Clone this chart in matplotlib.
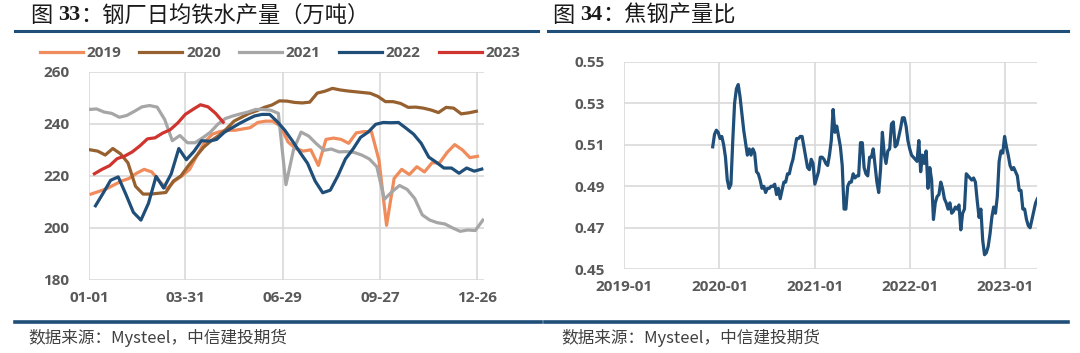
import pandas as pd
import matplotlib
matplotlib.use('Agg')
import matplotlib.pyplot as plt
import matplotlib.dates as mdates
from matplotlib.lines import Line2D

plt.rcParams['font.family'] = ['Open Sans', 'Noto Sans CJK SC', 'DejaVu Sans']

# ---- data: 钢厂日均铁水产量 (weekly, 万吨) ----
years = ['2019', '2020', '2021', '2022', '2023']
first_week = ['2019-01-03', '2020-01-02', '2021-01-01', '2022-01-07', '2023-01-06']

iron_2019 = [213, 214, 215, 216.5, 218, 219, 221, 222.5, 221.5, 218, 215, 218, 220,
             222.5, 228, 233, 236, 237, 237.5, 237.5, 238, 238.5, 240.5, 241, 241, 239,
             233, 230.5, 229.5, 230, 224, 234, 234.5, 234, 232.5, 236.5, 237, 237, 226,
             201, 219, 222.5, 220.5, 223.5, 221.5, 225, 225, 229, 232, 230, 227, 227.5]
iron_2020 = [230, 229.5, 228, 230.5, 228.5, 225, 216, 213, 213, 213.3, 213.6, 218, 220,
             224, 227.5, 231, 233.5, 235.5, 238, 241, 242.5, 244, 245, 246.3, 247.2, 248.8,
             248.7, 248.2, 248, 248.3, 251.8, 252.5, 253.6, 253, 252.6, 252.3, 252, 251.7,
             250.5, 248.5, 248.5, 247.8, 246.3, 246.4, 246, 245.3, 244.3, 246.3, 246, 243.8,
             244.2, 244.8]
iron_2021 = [245.5, 245.7, 244.5, 244, 242.5, 243.2, 244.8, 246.5, 247, 246.4, 241.6, 233.5,
             235.5, 232.7, 232.7, 234.6, 236.7, 239.8, 242, 243, 243.8, 244.5, 245.5, 245.5,
             245.2, 244, 216.6, 230, 236.8, 235.3, 232.4, 229.8, 230.3, 229.2, 229.3, 229,
             228, 226.5, 223.5, 211, 213.9, 216.3, 214.8, 211.3, 205, 203, 202, 201.5, 200,
             198.7, 199.2, 199, 203]
iron_2022 = [208.5, 213.3, 218.3, 219.6, 213, 206, 203, 209.5, 219.8, 215.3, 220.8, 230.5,
             226.2, 229.4, 233.5, 233.3, 234, 236.7, 238.4, 240.1, 241.6, 243, 243.6, 243.6,
             240.8, 237.5, 233.4, 229, 224.8, 218, 213.5, 214.5, 220, 226.5, 230.3, 234.8,
             236.8, 239.8, 240.5, 240.4, 240.5, 238.3, 236, 232.5, 227.2, 225.2, 223, 223,
             221, 223, 221.8, 222.6]
iron_2023 = [220.8, 222.5, 223.9, 226.6, 227.6, 229.2, 231.5, 234.2, 234.6, 236.4, 237.7,
             240.3, 243.6, 245.5, 247.3, 246.5, 244, 240.6]
iron_series = [iron_2019, iron_2020, iron_2021, iron_2022, iron_2023]
iron_colors = ['#F08B5B', '#96602F', '#A6A6A6', '#1F4E79', '#D0342F']
md_ticks = ['01-01', '03-31', '06-29', '09-27', '12-26']

# ---- data: 焦钢产量比 (weekly) ----
ratio_start = '2019-12-06'
ratio = [0.509, 0.515, 0.517, 0.516, 0.513, 0.514, 0.510, 0.504, 0.493, 0.489, 0.491,
         0.512, 0.530, 0.537, 0.539, 0.533, 0.525, 0.517, 0.511, 0.505, 0.508, 0.505,
         0.508, 0.506, 0.497, 0.496, 0.493, 0.489, 0.490, 0.487, 0.489, 0.489, 0.490,
         0.490, 0.491, 0.486, 0.489, 0.484, 0.488, 0.492, 0.492, 0.496, 0.496, 0.500,
         0.503, 0.508, 0.513, 0.513, 0.514, 0.514, 0.509, 0.504, 0.499, 0.498, 0.503,
         0.501, 0.491, 0.494, 0.497, 0.504, 0.504, 0.503, 0.501, 0.500, 0.505, 0.512,
         0.527, 0.516, 0.519, 0.514, 0.509, 0.500, 0.479, 0.479, 0.490, 0.492, 0.492,
         0.496, 0.494, 0.495, 0.495, 0.511, 0.511, 0.499, 0.496, 0.495, 0.504, 0.504,
         0.508, 0.500, 0.492, 0.487, 0.498, 0.516, 0.506, 0.501, 0.507, 0.508, 0.520,
         0.521, 0.509, 0.510, 0.514, 0.518, 0.523, 0.523, 0.519, 0.512, 0.508, 0.505,
         0.504, 0.503, 0.502, 0.512, 0.497, 0.505, 0.501, 0.507, 0.489, 0.499, 0.493,
         0.474, 0.482, 0.485, 0.486, 0.492, 0.489, 0.484, 0.482, 0.479, 0.482, 0.477,
         0.478, 0.480, 0.479, 0.481, 0.469, 0.477, 0.479, 0.496, 0.495, 0.494, 0.493,
         0.494, 0.492, 0.483, 0.475, 0.479, 0.464, 0.457, 0.458, 0.461, 0.467, 0.475,
         0.480, 0.477, 0.485, 0.502, 0.507, 0.506, 0.514, 0.509, 0.505, 0.500, 0.498,
         0.499, 0.497, 0.495, 0.488, 0.488, 0.479, 0.479, 0.474, 0.471, 0.470, 0.474,
         0.478, 0.482, 0.484]

TICK_COLOR = '#595959'
GRID_COLOR = '#D9D9D9'
NAVY = '#1F4E79'
CJK = ['Noto Sans CJK SC', 'DejaVu Sans']


def style_axes(ax):
    for s in ax.spines.values():
        s.set_visible(False)
    ax.grid(True, color=GRID_COLOR, lw=1.2)
    ax.set_axisbelow(True)
    ax.tick_params(length=0, colors=TICK_COLOR, labelsize=11)
    ax.tick_params(axis='y', pad=14)
    ax.tick_params(axis='x', pad=8)
    for lab in ax.get_xticklabels() + ax.get_yticklabels():
        lab.set_fontweight('bold')


def title_text(fig, x_px, y_px, parts, size=16):
    # draw the pieces one after another: "图 ", bold number, rest of title
    renderer = fig.canvas.get_renderer()
    x = x_px / 1080
    for txt, kw in parts:
        t = fig.text(x, 1 - y_px / 353, txt, fontsize=size, va='center',
                     color='#1a1a1a', **kw)
        bb = t.get_window_extent(renderer)
        x = bb.x1 / fig.bbox.width


fig = plt.figure(figsize=(10.8, 3.53), dpi=100)

# left: daily hot metal output
ax1 = fig.add_axes([0.0824, 0.2068, 0.3657, 0.5901])
for name, start, vals, col in zip(years, first_week, iron_series, iron_colors):
    d = pd.date_range(start, periods=len(vals), freq='7D')
    x = (d - pd.Timestamp(f'{name}-01-01')).days
    ax1.plot(x, vals, color=col, lw=2.3, label=name, solid_joinstyle='round')
tick_days = (pd.to_datetime(['2019-' + t for t in md_ticks]) - pd.Timestamp('2019-01-01')).days
ax1.set_xticks(tick_days)
ax1.set_xticklabels(md_ticks)
ax1.set_xlim(0, 365)
ax1.set_ylim(180, 260)
ax1.set_yticks(range(180, 261, 20))
style_axes(ax1)

leg = fig.legend(*ax1.get_legend_handles_labels(), loc='center', ncol=5,
                 bbox_to_anchor=(280 / 1080, 1 - 53 / 353), frameon=False,
                 handlelength=2.8, handletextpad=0.25, columnspacing=1.2,
                 prop={'size': 11, 'weight': 'bold'})
for t in leg.get_texts():
    t.set_color(TICK_COLOR)

# right: coke / steel output ratio
ax2 = fig.add_axes([0.5781, 0.2371, 0.3820, 0.5881])
rd = pd.date_range(ratio_start, periods=len(ratio), freq='7D')
ax2.plot(rd, ratio, color=NAVY, lw=2.3, solid_joinstyle='round')
ax2.set_xlim(pd.Timestamp('2019-01-01'), pd.Timestamp('2023-05-03'))
ax2.set_xticks(pd.to_datetime(['2019-01-01', '2020-01-01', '2021-01-01',
                               '2022-01-01', '2023-01-01']))
ax2.xaxis.set_major_formatter(mdates.DateFormatter('%Y-%m'))
ax2.set_ylim(0.45, 0.55)
ax2.set_yticks([0.45, 0.47, 0.49, 0.51, 0.53, 0.55])
ax2.set_yticklabels(['0.45', '0.47', '0.49', '0.51', '0.53', '0.55'])
style_axes(ax2)

# titles, rules and source notes
serif_bold = {'family': ['Liberation Serif', 'DejaVu Serif'], 'weight': 'bold'}
title_text(fig, 31, 15, [('图 ', {'family': CJK}), ('33', serif_bold),
                         ('：钢厂日均铁水产量（万吨）', {'family': CJK})])
title_text(fig, 553, 15, [('图 ', {'family': CJK}), ('34', serif_bold),
                          ('：焦钢产量比', {'family': CJK})])
for x0, x1 in [(15, 538), (548, 1068)]:
    fig.add_artist(Line2D([x0 / 1080, x1 / 1080], [1 - 31 / 353] * 2,
                          color=NAVY, lw=2.2, transform=fig.transFigure))
for x0, x1 in [(15, 541), (545, 1068)]:
    fig.add_artist(Line2D([x0 / 1080, x1 / 1080], [1 - 322 / 353] * 2,
                          color=NAVY, lw=2.6, transform=fig.transFigure))
for xs in [28, 561]:
    fig.text(xs / 1080, 1 - 338 / 353, '数据来源：Mysteel，中信建投期货', fontsize=12,
             va='center', family=CJK, style='italic', color='#404040')

fig.savefig('out.png', dpi=100)
